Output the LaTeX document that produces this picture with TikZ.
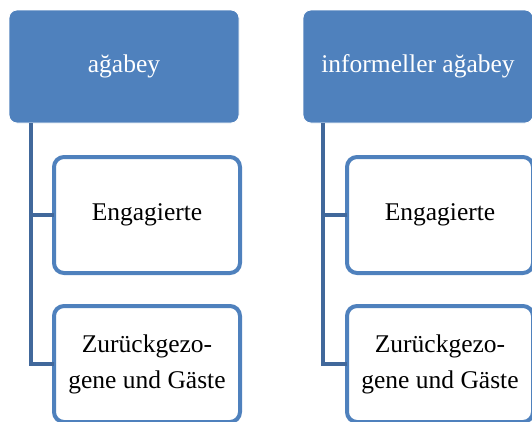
\documentclass[tikz,border=0pt]{standalone}
\usepackage{fontspec}
\setmainfont{Liberation Serif}
\usepackage{xcolor}

\definecolor{boxblue}{HTML}{4F81BD}
\definecolor{linkblue}{HTML}{41689B}

\begin{document}
\begin{tikzpicture}[x=1pt,y=-1pt,
    topbox/.style={rectangle,rounded corners=8pt,fill=boxblue,draw=white,line width=0.8pt,
        minimum width=230pt,minimum height=113pt,inner sep=0pt,outer sep=0pt,
        text=white,font=\fontsize{25.5}{36}\selectfont},
    subbox/.style={rectangle,rounded corners=10pt,fill=white,draw=boxblue,line width=4pt,
        minimum width=186pt,minimum height=116pt,inner sep=0pt,outer sep=0pt,
        align=center,font=\fontsize{25.5}{36}\selectfont},
    link/.style={draw=linkblue,line width=4.5pt}]
            \useasboundingbox (0,0) rectangle (532,421);
            \clip (0,0) rectangle (532,421);

            % left tree
            \node (a1) at (124,66.5) [topbox] {ağabey};
            \node (e1) at (147,215) [subbox] {Engagierte};
            \node (z1) at (147,364) [subbox] {Zurückgezo-\\gene und Gäste};
            \coordinate (s1) at (31,123);

            % right tree
            \node (a2) at (418,66.5) [topbox] {informeller ağabey};
            \node (e2) at (440,215) [subbox] {Engagierte};
            \node (z2) at (440,364) [subbox] {Zurückgezo-\\gene und Gäste};
            \coordinate (s2) at (323,123);

            \draw[link] (s1) |- (e1.west) ;
            \draw[link] (s1) |- (z1.west) ;
            \draw[link] (s2) |- (e2.west) ;
            \draw[link] (s2) |- (z2.west) ;

        \end{tikzpicture}
\end{document}
